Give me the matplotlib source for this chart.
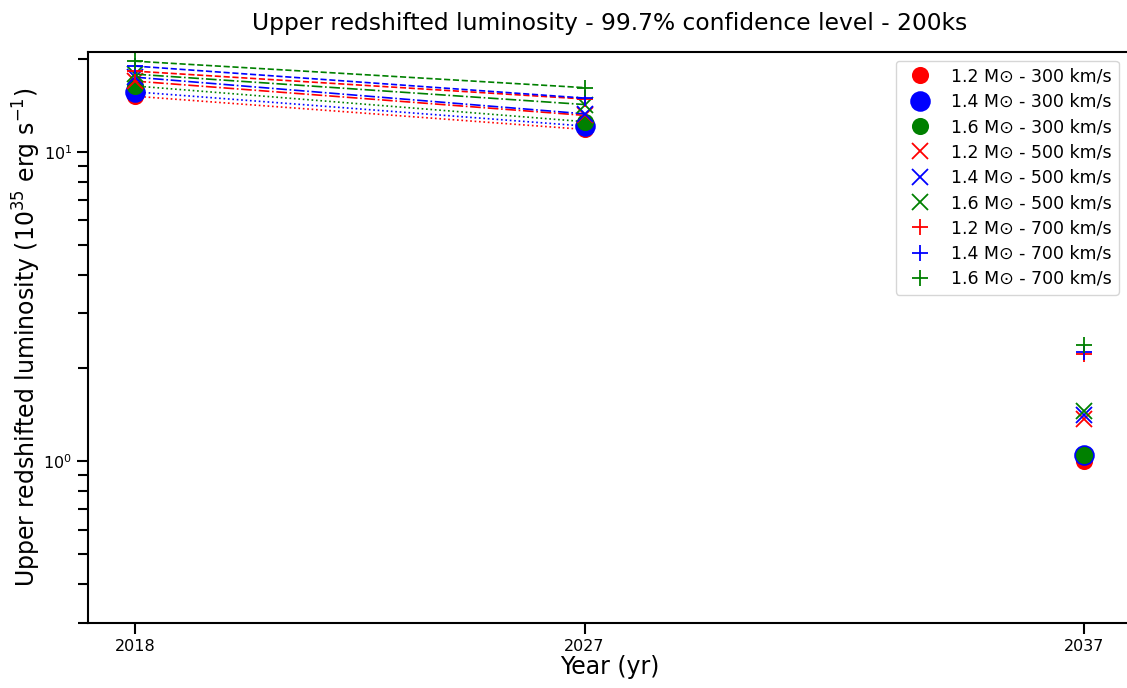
import numpy as np
import matplotlib.pyplot as plt

# epochs
years = [2018, 2027, 2037]

masses = ['1.2', '1.4', '1.6']
velocities = ['300', '500', '700']
colors = ['red', 'blue', 'green']

# upper redshifted luminosity (1e35 erg/s), one list per velocity, one row per mass
lum_300 = [[15.1, 11.8, 1.00],
           [15.6, 12.1, 1.05],
           [16.3, 12.5, 1.05]]
lum_500 = [[16.9, 13.1, 1.37],
           [17.4, 13.25, 1.41],
           [17.8, 14.2, 1.45]]
lum_700 = [[18.2, 14.8, 2.22],
           [18.9, 14.9, 2.26],
           [19.6, 16.1, 2.38]]

lums = [lum_300, lum_500, lum_700]
markers = ['o', 'x', '+']
linestyles = [':', '-.', '--']

fig = plt.figure(figsize=(11.27, 6.88), dpi=100)
# right edge of the axes falls just outside the figure (cropped in the original)
ax = fig.add_axes([0.0781, 0.0945, 0.9255, 0.8300])

for v, vel in enumerate(velocities):
    for m, mass in enumerate(masses):
        y = lums[v][m]
        ms = 11
        if markers[v] == 'o' and mass == '1.4':
            ms = 13.5
        ax.plot(years, y, linestyle='none', marker=markers[v], color=colors[m],
                markersize=ms, markeredgewidth=1.3,
                label=mass + ' M⊙ - ' + vel + ' km/s')
        # connecting line only between the first two epochs
        ax.plot(years[:2], y[:2], linestyle=linestyles[v], color=colors[m], linewidth=1.2)

ax.set_yscale('log')
ax.set_ylim(0.3, 21)
ax.set_xticks(years)
ax.set_xticklabels([str(y) for y in years])

ax.tick_params(which='major', length=8, width=1.5, labelsize=11.5)
ax.tick_params(which='minor', length=7, width=1.5)
for s in ax.spines.values():
    s.set_linewidth(1.5)

ax.set_xlabel('Year (yr)', fontsize=17, labelpad=1)
ax.set_ylabel(r'Upper redshifted luminosity (10$^{35}$ erg s$^{-1}$)', fontsize=17, labelpad=0)
ax.set_title('Upper redshifted luminosity - 99.7% confidence level - 200ks', fontsize=16.8, pad=16)

ax.legend(loc='upper right', fontsize=12.5, labelspacing=0.42,
          bbox_to_anchor=(0.9966, 1.0))

fig.savefig('out.png', dpi=100)
